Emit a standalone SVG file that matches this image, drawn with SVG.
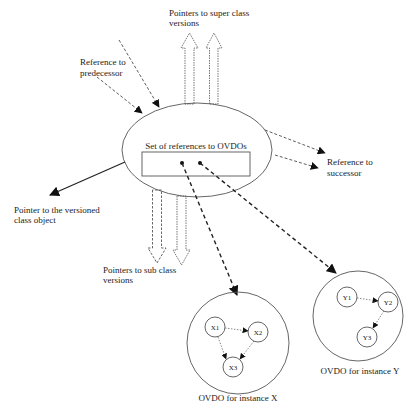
<svg xmlns="http://www.w3.org/2000/svg" width="405" height="407" viewBox="0 0 405 407">
  <style>
    text { font-family: "Liberation Serif", "Times New Roman", serif; font-size: 9px; fill: #222; }
    .small { font-size: 7px; }
    .outline { fill: none; stroke: #555; stroke-width: 0.9; }
    .block { fill: #fff; stroke: #666; stroke-width: 0.9; stroke-dasharray: 1.5 1; }
    .blockdash { fill: #fff; stroke: #555; stroke-width: 0.9; stroke-dasharray: 2.5 1.5; }
    .ref { fill: none; stroke: #333; stroke-width: 0.8; stroke-dasharray: 3 2; }
    .ovdo { fill: none; stroke: #222; stroke-width: 1.4; stroke-dasharray: 4 3; }
    .solid { fill: none; stroke: #222; stroke-width: 1.2; }
    .link { fill: none; stroke: #555; stroke-width: 0.7; stroke-dasharray: 1.5 1.5; }
  </style>
  <defs>
    <marker id="head" viewBox="0 0 10 10" refX="9" refY="5" markerWidth="8" markerHeight="8" markerUnits="userSpaceOnUse" orient="auto">
      <path d="M0,0 L10,5 L0,10 z" fill="#111"/>
    </marker>
    <marker id="headbig" viewBox="0 0 10 10" refX="9" refY="5" markerWidth="10" markerHeight="10" markerUnits="userSpaceOnUse" orient="auto">
      <path d="M0,0 L10,5 L0,10 z" fill="#111"/>
    </marker>
    <marker id="headsmall" viewBox="0 0 10 10" refX="9" refY="5" markerWidth="6" markerHeight="6" markerUnits="userSpaceOnUse" orient="auto">
      <path d="M0,0 L10,5 L0,10 z" fill="#111"/>
    </marker>
  </defs>

  <rect width="405" height="407" fill="#fff"/>

  <!-- hollow block arrows to super and sub class versions -->
  <g id="super-class-arrows">
    <polygon class="block" points="185,104 185,48 181,48 189.5,33 198,48 194,48 194,104"/>
    <polygon class="block" points="209.5,104 209.5,48 206,48 214,33 222,48 218,48 218,104"/>
  </g>
  <g id="sub-class-arrows">
    <polygon class="blockdash" points="152.5,190 152.5,248 148,248 157,263 166,248 161.5,248 161.5,190"/>
    <polygon class="block" points="177,196 177,250 173,250 181.5,265 190,250 186,250 186,196"/>
  </g>

  <!-- versioned class object -->
  <g id="class-version">
    <ellipse class="outline" cx="197" cy="150" rx="75" ry="47" fill="#fff"/>
    <text x="196" y="148.5" text-anchor="middle">Set of references to OVDOs</text>
    <rect class="outline" x="142" y="152" width="108" height="24"/>
    <circle cx="182" cy="163" r="2" fill="#111"/>
    <circle cx="200" cy="163" r="2" fill="#111"/>
  </g>

  <!-- connectors -->
  <g id="connectors">
    <line class="ref" x1="97" y1="77" x2="142" y2="113" marker-end="url(#head)"/>
    <line class="ref" x1="119" y1="40" x2="159" y2="107" marker-end="url(#head)"/>
    <line class="ref" x1="265" y1="130" x2="325" y2="153" marker-end="url(#head)"/>
    <line class="ref" x1="275" y1="155" x2="318" y2="168" marker-end="url(#head)"/>
    <line class="solid" x1="125" y1="162" x2="50" y2="195" marker-end="url(#headbig)"/>
    <line class="ovdo" x1="182" y1="163" x2="237" y2="295" marker-end="url(#headbig)"/>
    <line class="ovdo" x1="200" y1="163" x2="336" y2="273" marker-end="url(#headbig)"/>
  </g>

  <!-- labels -->
  <g id="labels">
    <text x="169" y="15.5">Pointers to super class</text>
    <text x="169" y="25.5">versions</text>
    <text x="80" y="64.5">Reference to</text>
    <text x="80" y="75.5">predecessor</text>
    <text x="327" y="164.5">Reference to</text>
    <text x="327" y="175.5">successor</text>
    <text x="14" y="212.5">Pointer to the versioned</text>
    <text x="14" y="222.5">class object</text>
    <text x="103" y="272.5">Pointers to sub class</text>
    <text x="103" y="282.5">versions</text>
  </g>

  <!-- OVDO for instance X -->
  <g id="ovdo-x">
    <circle class="outline" cx="238" cy="343" r="51" fill="#fff"/>
    <g id="x1"><circle class="outline" cx="215" cy="327" r="10"/><text class="small" x="215" y="329.5" text-anchor="middle">X1</text></g>
    <g id="x2"><circle class="outline" cx="258" cy="332" r="10"/><text class="small" x="258" y="334.5" text-anchor="middle">X2</text></g>
    <g id="x3"><circle class="outline" cx="233" cy="367" r="10"/><text class="small" x="233" y="369.5" text-anchor="middle">X3</text></g>
    <line class="link" x1="225" y1="328" x2="248" y2="331" marker-end="url(#headsmall)"/>
    <line class="link" x1="218" y1="337" x2="226" y2="359" marker-end="url(#headsmall)"/>
    <line class="link" x1="254" y1="341" x2="240" y2="359" marker-end="url(#headsmall)"/>
    <text x="238" y="401" text-anchor="middle">OVDO for instance X</text>
  </g>

  <!-- OVDO for instance Y -->
  <g id="ovdo-y">
    <circle class="outline" cx="358" cy="316" r="45" fill="#fff"/>
    <g id="y1"><circle class="outline" cx="347" cy="297" r="10"/><text class="small" x="347" y="299.5" text-anchor="middle">Y1</text></g>
    <g id="y2"><circle class="outline" cx="388" cy="302" r="10"/><text class="small" x="388" y="304.5" text-anchor="middle">Y2</text></g>
    <g id="y3"><circle class="outline" cx="367" cy="337" r="10"/><text class="small" x="367" y="339.5" text-anchor="middle">Y3</text></g>
    <line class="link" x1="357" y1="298" x2="378" y2="301" marker-end="url(#headsmall)"/>
    <line class="link" x1="384" y1="311" x2="373" y2="328" marker-end="url(#headsmall)"/>
    <text x="360" y="374" text-anchor="middle">OVDO for instance Y</text>
  </g>
</svg>
